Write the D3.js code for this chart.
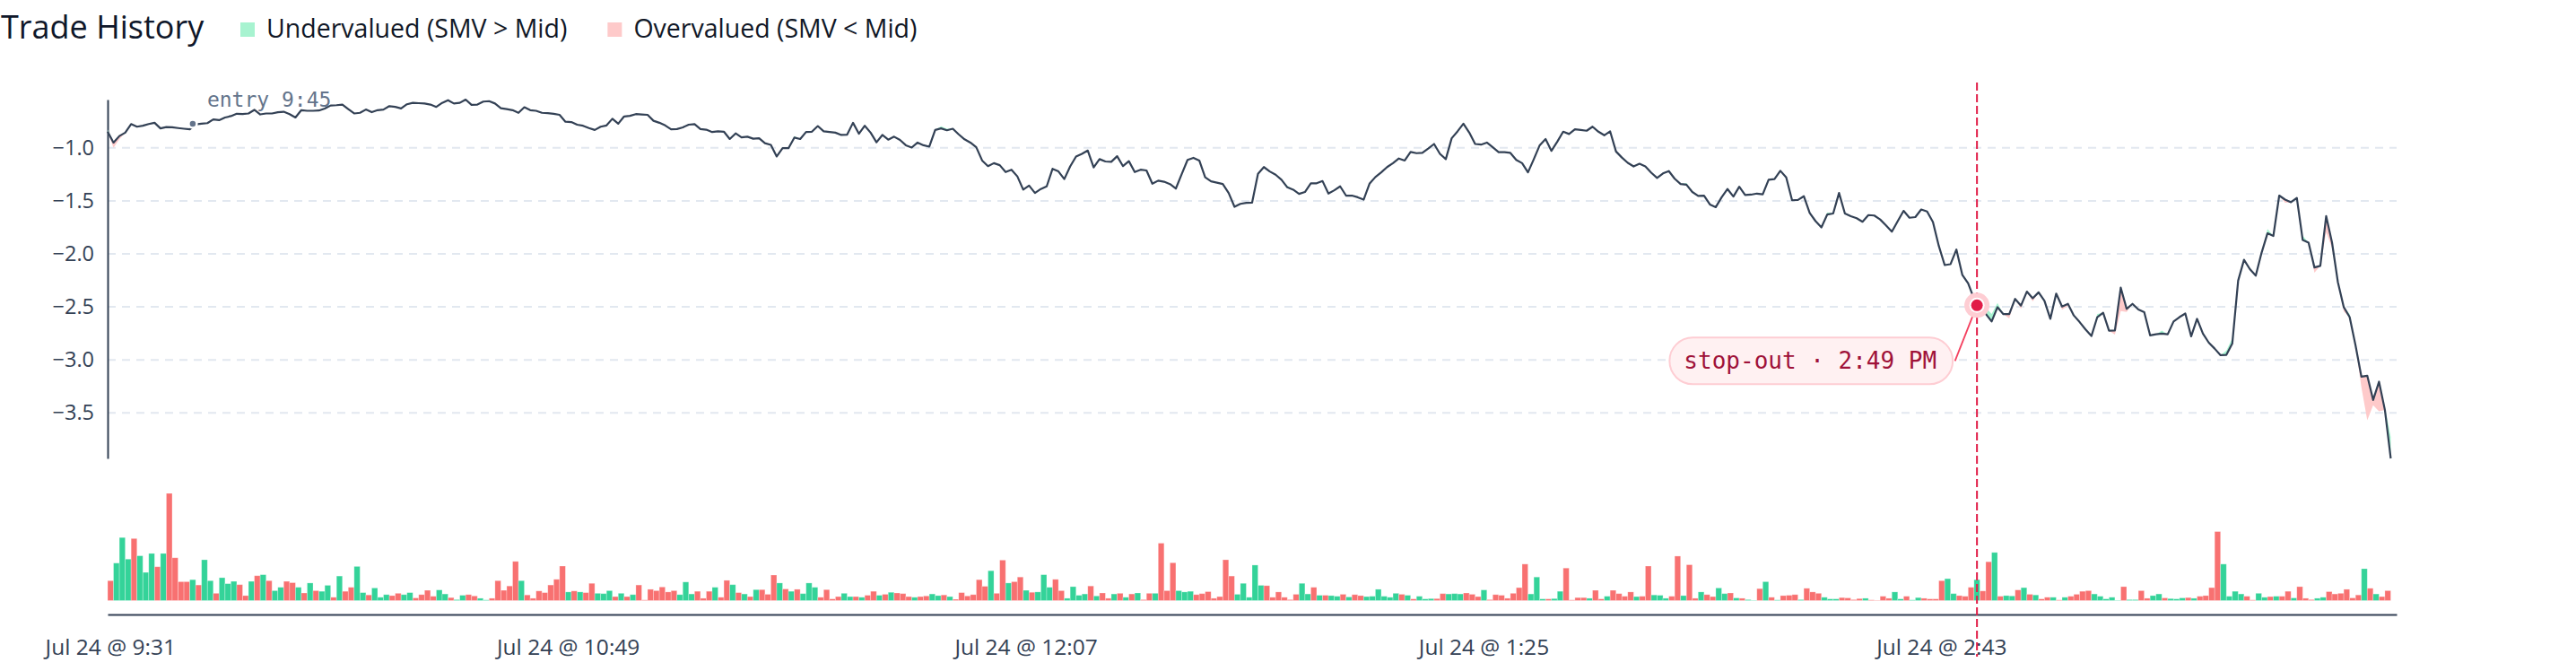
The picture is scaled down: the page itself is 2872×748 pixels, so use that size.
<!DOCTYPE html>
<html><head><meta charset="utf-8">
<script src="https://cdn.jsdelivr.net/npm/d3@7"></script>
<style>
html,body{margin:0;padding:0;background:#fff;}
svg{display:block;}
</style></head><body>
<svg id="chart" width="2872" height="748"></svg>
<script>
// ---------------- data ----------------
const sessionStart = new Date(2024, 6, 24, 9, 31); // one point per minute
const midValues = [
-0.847,-0.950,-0.888,-0.856,-0.775,-0.800,-0.791,-0.775,-0.763,-0.816,
-0.803,-0.806,-0.813,-0.819,-0.825,-0.778,-0.772,-0.766,-0.731,-0.738,
-0.713,-0.700,-0.678,-0.681,-0.675,-0.641,-0.684,-0.675,-0.675,-0.663,
-0.659,-0.681,-0.713,-0.644,-0.650,-0.650,-0.647,-0.628,-0.600,-0.597,
-0.591,-0.634,-0.675,-0.669,-0.638,-0.663,-0.644,-0.638,-0.606,-0.613,
-0.628,-0.588,-0.575,-0.578,-0.581,-0.591,-0.613,-0.575,-0.550,-0.581,
-0.575,-0.544,-0.594,-0.591,-0.563,-0.559,-0.581,-0.625,-0.634,-0.644,
-0.669,-0.616,-0.644,-0.650,-0.669,-0.672,-0.678,-0.688,-0.753,-0.756,
-0.781,-0.791,-0.813,-0.831,-0.800,-0.788,-0.725,-0.772,-0.703,-0.697,
-0.681,-0.684,-0.688,-0.744,-0.763,-0.788,-0.825,-0.822,-0.806,-0.781,
-0.775,-0.822,-0.828,-0.850,-0.844,-0.847,-0.916,-0.863,-0.900,-0.894,
-0.913,-0.909,-0.956,-0.972,-1.081,-1.003,-1.003,-0.903,-0.916,-0.850,
-0.847,-0.794,-0.844,-0.850,-0.856,-0.878,-0.875,-0.763,-0.866,-0.791,
-0.856,-0.947,-0.878,-0.922,-0.894,-0.925,-0.975,-0.997,-0.950,-0.975,
-0.988,-0.831,-0.816,-0.834,-0.819,-0.872,-0.919,-0.950,-0.994,-1.119,
-1.172,-1.144,-1.163,-1.228,-1.206,-1.269,-1.394,-1.356,-1.425,-1.388,
-1.363,-1.197,-1.222,-1.294,-1.175,-1.081,-1.056,-1.025,-1.184,-1.106,
-1.128,-1.131,-1.078,-1.172,-1.125,-1.228,-1.206,-1.213,-1.338,-1.309,
-1.319,-1.341,-1.384,-1.247,-1.113,-1.094,-1.119,-1.278,-1.316,-1.328,
-1.341,-1.425,-1.556,-1.528,-1.519,-1.516,-1.244,-1.181,-1.222,-1.253,
-1.300,-1.372,-1.394,-1.434,-1.416,-1.334,-1.334,-1.313,-1.431,-1.400,
-1.363,-1.450,-1.450,-1.466,-1.488,-1.338,-1.275,-1.231,-1.181,-1.144,
-1.100,-1.119,-1.038,-1.050,-1.047,-1.006,-0.963,-1.056,-1.106,-0.909,
-0.844,-0.772,-0.856,-0.963,-0.969,-0.950,-0.994,-1.041,-1.041,-1.047,
-1.113,-1.144,-1.231,-1.106,-0.975,-0.916,-1.028,-0.941,-0.847,-0.869,
-0.825,-0.831,-0.838,-0.800,-0.847,-0.881,-0.844,-1.034,-1.091,-1.141,
-1.175,-1.150,-1.175,-1.234,-1.284,-1.241,-1.219,-1.291,-1.341,-1.347,
-1.416,-1.453,-1.450,-1.534,-1.559,-1.466,-1.388,-1.459,-1.366,-1.444,
-1.441,-1.431,-1.438,-1.300,-1.294,-1.216,-1.278,-1.494,-1.491,-1.456,
-1.613,-1.691,-1.750,-1.628,-1.619,-1.425,-1.619,-1.644,-1.663,-1.697,
-1.634,-1.638,-1.675,-1.731,-1.791,-1.691,-1.594,-1.659,-1.653,-1.581,
-1.600,-1.700,-1.925,-2.106,-2.097,-1.959,-2.197,-2.278,-2.425,-2.519,
-2.566,-2.638,-2.503,-2.569,-2.569,-2.425,-2.488,-2.356,-2.419,-2.363,
-2.444,-2.613,-2.375,-2.497,-2.472,-2.581,-2.644,-2.713,-2.775,-2.597,
-2.556,-2.725,-2.722,-2.319,-2.519,-2.472,-2.525,-2.550,-2.769,-2.759,
-2.753,-2.759,-2.638,-2.597,-2.563,-2.778,-2.613,-2.753,-2.838,-2.894,
-2.956,-2.953,-2.847,-2.253,-2.056,-2.144,-2.206,-1.988,-1.806,-1.831,
-1.450,-1.488,-1.513,-1.472,-1.869,-1.894,-2.128,-2.113,-1.644,-1.894,
-2.269,-2.503,-2.597,-2.863,-3.159,-3.150,-3.378,-3.206,-3.472,-3.930
];
// SMV minus Mid, read where the shaded band is visible: [minute index, difference]
const smvMinusMid = [
[0,0.02],[1,-0.05],[2,-0.03],[117,0.015],[142,0.02],[143,0.015],[201,0.015],[269,0.015],
[293,0.02],[320,0.06],[321,0.07],[322,0.04],[324,-0.04],[326,-0.03],[328,-0.03],[333,-0.03],
[334,-0.02],[339,0.03],[342,-0.04],[343,-0.22],[344,-0.03],[350,0.03],[361,0.04],[362,0.05],
[368,0.04],[371,-0.03],[374,0.04],[376,-0.05],[378,-0.15],[379,-0.05],[381,-0.04],[382,0.03],
[384,-0.10],[385,-0.42],[386,-0.05],[387,-0.28],[388,0.03],[389,0.20]
];
const volumes = [
60,113,190,125,187,135,85,142,102,142,
323,129,57,57,63,47,123,60,22,69,
51,58,48,15,58,75,78,60,30,40,
58,54,40,23,53,30,28,46,10,74,
28,40,103,24,17,38,10,18,15,22,
18,24,8,18,31,13,32,20,9,3,
16,18,14,7,2,7,60,31,44,118,
60,17,7,29,24,47,64,104,26,29,
26,24,52,22,21,30,12,22,12,18,
47,2,34,30,41,26,30,18,56,20,
28,7,28,40,10,61,48,24,20,12,
33,33,19,77,53,35,28,34,21,53,
40,10,33,5,12,22,12,12,10,16,
28,16,19,25,23,21,12,10,12,14,
20,15,17,12,4,24,14,18,63,43,
90,22,122,53,57,71,31,25,26,78,
40,64,30,7,42,16,20,44,14,23,
7,20,22,10,20,23,3,22,22,173,
30,114,30,26,28,18,21,27,7,12,
123,74,19,52,10,107,46,45,10,26,
10,3,19,52,20,40,16,16,15,13,
19,11,18,15,12,13,34,13,10,22,
19,16,5,13,5,6,6,21,20,21,
20,23,19,12,32,3,18,16,7,22,
39,110,20,71,5,5,6,28,98,2,
9,9,7,31,5,13,31,21,13,26,
12,13,104,17,16,7,13,134,15,108,
7,26,18,12,38,21,23,8,7,3,
1,36,57,10,2,15,16,18,3,37,
26,22,10,5,5,9,8,3,6,7,
2,1,13,7,26,5,13,2,9,7,
5,5,60,66,21,15,13,40,63,29,
117,145,13,15,14,32,39,19,17,5,
10,10,2,10,13,19,28,30,20,13,
5,10,1,42,3,3,30,7,15,20,
8,6,5,8,9,7,13,15,39,208,
110,13,28,20,13,2,22,10,12,13,
13,28,8,42,7,3,7,10,27,20,
22,34,8,17,96,37,20,12,30
];
// g = undervalued (SMV > Mid), r = overvalued (SMV < Mid), one per volume bar
const flowSide = (
"rgggrgggrg"+"rrrrgrggrg"+"ggrrgrgrgg"+"rrgrgrggrg"+"rrggrgggrr"+
"ggrrrrggrg"+"grrggrrrrr"+"grrrrrrrgr"+"grrgggrgrg"+"rrrrrrrggg"+
"rrrgrrgrgr"+"grrrgrgrgg"+"grrrrggrgr"+"rgrgrrrgrr"+"ggrgrrrrrr"+
"grrgrrgrgg"+"grrggggrgr"+"rgrgrgrrgr"+"rrgggrrrrr"+"rrgggggrrr"+
"rrrggrgrgg"+"rgrrgggggg"+"rgrgggrrgg"+"grrrgrrrrr"+"rrgggrggrr"+
"rrgrrgrrrr"+"grrgggrrgr"+"rgrrggrgrg"+"grgrgrrrgr"+"rrgggrrrrg"+
"rrrrggrggr"+"rrrggrrrgr"+"rgrggrgrgr"+"rgrgrrrrgg"+"gggrggrrgg"+
"rgggrgrrrr"+"ggggrrggrg"+"rrgrrrggrr"+"rrrrgrgrr").split("");
const tickIndices = [0, 78, 156, 234, 312];
const entryMarker = { index: 14, value: -0.772, label: "entry 9:45" };
const stopMarker = { index: 318, value: -2.485, label: "stop-out \u00b7 2:49 PM" };
const legendItems = [
  { label: "Undervalued (SMV > Mid)", color: "#a7f3d0" },
  { label: "Overvalued (SMV < Mid)", color: "#fecaca" }
];

// ---------------- chart ----------------
const SANS = "'Open Sans', sans-serif";
const MONO = "'DejaVu Sans Mono', monospace";
const svg = d3.select("#chart");
const times = midValues.map((_, i) => d3.timeMinute.offset(sessionStart, i));
const x = d3.scaleBand().domain(times).range([120, 2672]).padding(0);
const bw = x.bandwidth();
const smvMap = new Map(smvMinusMid);
const smvValues = midValues.map((v, i) => v + (smvMap.get(i) || 0));
const y = d3.scaleLinear().domain(d3.extent(midValues.concat(smvValues))).range([511, 111]);
const yVol = d3.scaleLinear().domain([0, d3.max(volumes)]).range([669.5, 550]);
const idx = d3.range(midValues.length);
const px = i => x(times[i]);

// grid
const gTicks = y.ticks(6);
svg.append("g").selectAll("line").data(gTicks).join("line")
  .attr("x1", 120).attr("x2", 2672)
  .attr("y1", d => y(d)).attr("y2", d => y(d))
  .attr("stroke", "#e2e8f0").attr("stroke-width", 2).attr("stroke-dasharray", "9,7");

// y axis
const gy = svg.append("g").attr("transform", "translate(120,0)")
  .call(d3.axisLeft(y).tickValues(gTicks).tickSize(0).tickPadding(15).tickFormat(d3.format(".1f")));
gy.select(".domain").attr("stroke", "#334155").attr("stroke-width", 2);
gy.selectAll("text").attr("font-family", SANS).attr("font-size", 23.5).attr("fill", "#334155");

// volume bars
svg.append("g").selectAll("rect").data(volumes).join("rect")
  .attr("x", (d, i) => px(i)).attr("width", bw)
  .attr("y", d => yVol(d)).attr("height", d => yVol(0) - yVol(d))
  .attr("fill", (d, i) => flowSide[i] === "g" ? "#34d399" : "#f87171")
  .attr("stroke", "#ffffff").attr("stroke-opacity", 0.35).attr("stroke-width", 0.8);

// x axis
const gx = svg.append("g").attr("transform", "translate(0,685)")
  .call(d3.axisBottom(x).tickValues(tickIndices.map(i => times[i])).tickSize(0).tickPadding(28)
    .tickFormat(d3.timeFormat("%b %-d @ %-I:%M")));
gx.select(".domain").attr("stroke", "#334155").attr("stroke-width", 2);
gx.selectAll("text").attr("font-family", SANS).attr("font-size", 24.5).attr("fill", "#334155");

// SMV vs Mid bands
const areaUp = d3.area().x(px).y0(i => y(midValues[i])).y1(i => y(Math.max(midValues[i], smvValues[i])));
const areaDn = d3.area().x(px).y0(i => y(midValues[i])).y1(i => y(Math.min(midValues[i], smvValues[i])));
svg.append("path").datum(idx).attr("d", areaUp).attr("fill", "#a7f3d0");
svg.append("path").datum(idx).attr("d", areaDn).attr("fill", "#fecaca");

// mid line
svg.append("path").datum(idx)
  .attr("d", d3.line().x(px).y(i => y(midValues[i])))
  .attr("fill", "none").attr("stroke", "#334155").attr("stroke-width", 2.2)
  .attr("stroke-linejoin", "round");

// entry marker
const ex = px(entryMarker.index) + bw / 2, ey = y(entryMarker.value);
svg.append("circle").attr("cx", ex).attr("cy", ey).attr("r", 4.5)
  .attr("fill", "#64748b").attr("stroke", "#fff").attr("stroke-width", 2.5);
svg.append("text").attr("x", ex + 16).attr("y", ey - 18.5)
  .attr("font-family", MONO).attr("font-size", 23).attr("fill", "#64748b")
  .text(entryMarker.label);

// stop-out marker
const sx = px(stopMarker.index) + bw / 2, sy = y(stopMarker.value);
svg.append("line").attr("x1", sx).attr("x2", sx).attr("y1", 92).attr("y2", 732)
  .attr("stroke", "#e11d48").attr("stroke-width", 2).attr("stroke-dasharray", "9,4");
svg.append("circle").attr("cx", sx).attr("cy", sy).attr("r", 14).attr("fill", "#fecdd3");
svg.append("circle").attr("cx", sx).attr("cy", sy).attr("r", 8.5).attr("fill", "#fff");
svg.append("circle").attr("cx", sx).attr("cy", sy).attr("r", 6.5).attr("fill", "#e11d48");

const pillG = svg.append("g");
const pillRect = pillG.append("rect");
const pillText = pillG.append("text")
  .attr("font-family", MONO).attr("font-size", 26).attr("fill", "#9f1239")
  .text(stopMarker.label);
const tw = pillText.node().getComputedTextLength();
const pillW = tw + 34, pillH = 52;
const pillRight = sx - 27, pillCy = sy + 62;
const pillX = pillRight - pillW;
pillRect.attr("x", pillX).attr("y", pillCy - pillH / 2).attr("width", pillW).attr("height", pillH)
  .attr("rx", pillH / 2).attr("fill", "#fff1f2").attr("stroke", "#fecdd3").attr("stroke-width", 2);
pillText.attr("x", pillX + 16).attr("y", pillCy).attr("dominant-baseline", "central");
{
  const x0 = pillRight + 2.5, y0 = pillCy;
  const dx = sx - x0, dy = sy - y0, L = Math.hypot(dx, dy);
  const t = (L - 14) / L;
  svg.append("line").attr("x1", x0).attr("y1", y0).attr("x2", x0 + dx * t).attr("y2", y0 + dy * t)
    .attr("stroke", "#f43f5e").attr("stroke-width", 1.8);
}

// title + legend
svg.append("text").attr("x", 1).attr("y", 43)
  .attr("font-family", SANS).attr("font-size", 36).attr("fill", "#0f172a")
  .text("Trade History");
let lx = 268;
legendItems.forEach(item => {
  svg.append("rect").attr("x", lx).attr("y", 25).attr("width", 16).attr("height", 16).attr("fill", item.color);
  const t = svg.append("text").attr("x", lx + 29).attr("y", 42)
    .attr("font-family", SANS).attr("font-size", 28.5).attr("fill", "#111827").text(item.label);
  lx = lx + 29 + t.node().getComputedTextLength() + 45;
});
</script>
</body></html>
